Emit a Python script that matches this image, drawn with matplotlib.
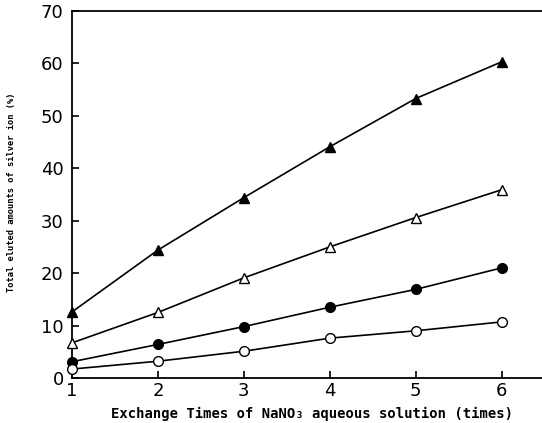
import matplotlib
matplotlib.use("Agg")
import matplotlib.pyplot as plt

# exchange times and cumulative eluted silver (%) for the four samples
times = [1, 2, 3, 4, 5, 6]
tri_filled = [12.6, 24.4, 34.4, 44.1, 53.3, 60.3]
tri_open = [6.7, 12.5, 19.1, 25.0, 30.6, 35.9]
circ_filled = [3.1, 6.4, 9.8, 13.5, 16.9, 21.0]
circ_open = [1.7, 3.2, 5.1, 7.6, 9.0, 10.7]

x_ticks = [1, 2, 3, 4, 5, 6]
y_ticks = [0, 10, 20, 30, 40, 50, 60, 70]

fig = plt.figure(figsize=(5.42, 4.23), dpi=100)
ax = fig.add_axes([0.1328, 0.1064, 0.8672, 0.8676])

common = dict(color="black", linewidth=1.2, clip_on=False, zorder=3)
ax.plot(times, tri_filled, marker="^", markersize=7, markerfacecolor="black",
        markeredgecolor="black", **common)
ax.plot(times, tri_open, marker="^", markersize=7, markerfacecolor="white",
        markeredgecolor="black", markeredgewidth=1.0, **common)
ax.plot(times, circ_filled, marker="o", markersize=7, markerfacecolor="black",
        markeredgecolor="black", **common)
ax.plot(times, circ_open, marker="o", markersize=7, markerfacecolor="white",
        markeredgecolor="black", markeredgewidth=1.0, **common)

ax.set_xlim(1, 6.47)
ax.set_ylim(0, 70)
ax.set_xticks(x_ticks)
ax.set_yticks(y_ticks)
ax.tick_params(direction="in", length=5, width=1.2, labelsize=13, pad=6)
ax.tick_params(axis="x", pad=3)
ax.spines["right"].set_visible(False)
for s in ("left", "bottom", "top"):
    ax.spines[s].set_linewidth(1.3)

fig.text(0.021, 0.545, "Total eluted amounts of silver ion (%)", rotation=90,
         ha="center", va="center", family="DejaVu Sans Mono",
         fontweight="bold", fontsize=6.3)
fig.text(0.576, 0.022, "Exchange Times of NaNO\u2083 aqueous solution (times)",
         ha="center", va="center", family="DejaVu Sans Mono",
         fontweight="bold", fontsize=10)

fig.savefig("out.png", dpi=100)
